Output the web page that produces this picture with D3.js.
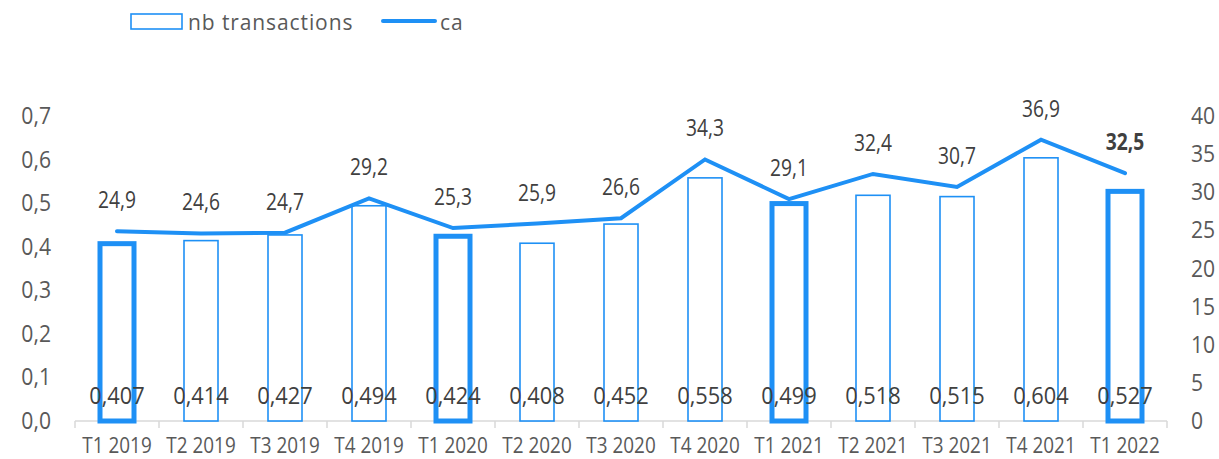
<!DOCTYPE html>
<html>
<head>
<meta charset="utf-8">
<script src="https://cdn.jsdelivr.net/npm/d3@7"></script>
<style>
  body { margin: 0; background: #fff; }
</style>
</head>
<body>
<div class="canvas"></div>
<script>
// data
const categories = ['T1 2019', 'T2 2019', 'T3 2019', 'T4 2019', 'T1 2020', 'T2 2020', 'T3 2020',
                    'T4 2020', 'T1 2021', 'T2 2021', 'T3 2021', 'T4 2021', 'T1 2022'];
const nbTransactions = [0.407, 0.414, 0.427, 0.494, 0.424, 0.408, 0.452, 0.558, 0.499, 0.518, 0.515, 0.604, 0.527];
const ca = [24.9, 24.6, 24.7, 29.2, 25.3, 25.9, 26.6, 34.3, 29.1, 32.4, 30.7, 36.9, 32.5];
const leftTicks = [0, 0.1, 0.2, 0.3, 0.4, 0.5, 0.6, 0.7];
const rightTicks = [0, 5, 10, 15, 20, 25, 30, 35, 40];

const blue = '#1e90f5';
const textCol = '#404040';
const axisCol = '#595959';
const font = 'Open Sans, sans-serif';
const fmt = (v, d) => v.toFixed(d).replace('.', ',');

const W = 1219, H = 459;
const svg = d3.select('.canvas').append('svg')
    .attr('width', W)
    .attr('height', H);

const x = d3.scaleBand().domain(categories).range([75, 1167]).paddingInner(0).paddingOuter(0);
const yL = d3.scaleLinear().domain([0, 0.7]).range([421, 116]);
const yR = d3.scaleLinear().domain([0, 40]).range([421, 116]);
const cx = d => x(d) + x.bandwidth() / 2;

// left axis labels
svg.append('g').selectAll('text')
    .data(leftTicks)
    .join('text')
    .attr('transform', d => `translate(51,${yL(d) + 8}) scale(0.92,1)`)
    .attr('text-anchor', 'end')
    .attr('font-family', font)
    .attr('font-size', 23)
    .attr('fill', axisCol)
    .text(d => fmt(d, 1));

// right axis labels
svg.append('g').selectAll('text')
    .data(rightTicks)
    .join('text')
    .attr('transform', d => `translate(1191,${yR(d) + 8}) scale(0.92,1)`)
    .attr('font-family', font)
    .attr('font-size', 23)
    .attr('fill', axisCol)
    .text(d => d);

// bottom axis
const xAxis = svg.append('g').attr('transform', 'translate(0,421)');
xAxis.append('line')
    .attr('x1', 75).attr('x2', 1167)
    .attr('stroke', '#d9d9d9').attr('stroke-width', 1.5);
xAxis.selectAll('line.tick')
    .data(d3.range(categories.length + 1))
    .join('line')
    .attr('class', 'tick')
    .attr('x1', i => 75 + i * x.bandwidth())
    .attr('x2', i => 75 + i * x.bandwidth())
    .attr('y1', 0).attr('y2', 7)
    .attr('stroke', '#d9d9d9').attr('stroke-width', 1.5);
xAxis.selectAll('text')
    .data(categories)
    .join('text')
    .attr('transform', d => `translate(${cx(d)},32) scale(0.86,1)`)
    .attr('text-anchor', 'middle')
    .attr('font-family', font)
    .attr('font-size', 22)
    .attr('fill', axisCol)
    .text(d => d);

// bars
const isT1 = d => d.startsWith('T1');
const barW = 34;
svg.append('g').selectAll('rect')
    .data(categories)
    .join('rect')
    .attr('x', d => cx(d) - barW / 2)
    .attr('y', (d, i) => yL(nbTransactions[i]))
    .attr('width', barW)
    .attr('height', (d, i) => yL(0) - yL(nbTransactions[i]))
    .attr('fill', 'white')
    .attr('stroke', blue)
    .attr('stroke-width', d => isT1(d) ? 5 : 1.6);

// bar labels
svg.append('g').selectAll('text')
    .data(categories)
    .join('text')
    .attr('transform', d => `translate(${cx(d)},404) scale(0.95,1)`)
    .attr('text-anchor', 'middle')
    .attr('font-family', font)
    .attr('font-size', 23)
    .attr('fill', textCol)
    .text((d, i) => fmt(nbTransactions[i], 3));

// ca line
const line = d3.line()
    .x((d, i) => cx(categories[i]))
    .y(d => yR(d));
svg.append('path')
    .datum(ca)
    .attr('d', line)
    .attr('fill', 'none')
    .attr('stroke', blue)
    .attr('stroke-width', 4)
    .attr('stroke-linecap', 'round');

// line labels
svg.append('g').selectAll('text')
    .data(ca)
    .join('text')
    .attr('transform', (d, i) => `translate(${cx(categories[i])},${yR(d) - 23}) scale(0.8,1)`)
    .attr('text-anchor', 'middle')
    .attr('font-family', font)
    .attr('font-size', 24)
    .attr('font-weight', (d, i) => i === ca.length - 1 ? 'bold' : 'normal')
    .attr('fill', textCol)
    .text(d => fmt(d, 1));

// legend
svg.append('rect')
    .attr('x', 131).attr('y', 14)
    .attr('width', 51).attr('height', 15)
    .attr('fill', 'white')
    .attr('stroke', blue)
    .attr('stroke-width', 1.6);
svg.append('text')
    .attr('x', 188).attr('y', 30)
    .attr('font-family', font)
    .attr('font-size', 21)
    .attr('letter-spacing', 0.9)
    .attr('fill', axisCol)
    .text('nb transactions');
svg.append('line')
    .attr('x1', 383).attr('x2', 435)
    .attr('y1', 21).attr('y2', 21)
    .attr('stroke', blue)
    .attr('stroke-width', 4)
    .attr('stroke-linecap', 'round');
svg.append('text')
    .attr('x', 440).attr('y', 30)
    .attr('font-family', font)
    .attr('font-size', 21)
    .attr('letter-spacing', 0.9)
    .attr('fill', axisCol)
    .text('ca');
</script>
</body>
</html>
